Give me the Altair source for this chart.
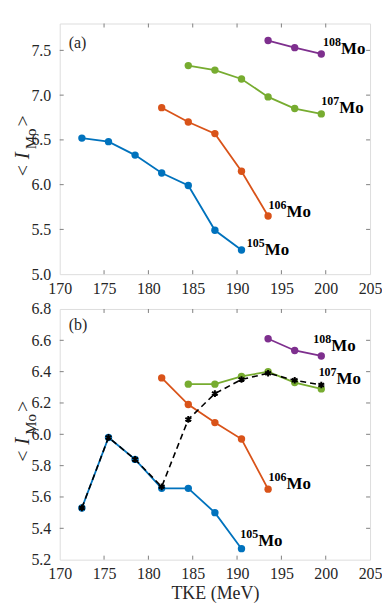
import altair as alt
import pandas as pd

# ---------------- data ----------------
isotopes = ["105", "106", "107", "108"]
x105 = [172.5, 175.5, 178.5, 181.5, 184.5, 187.5, 190.5]
x106 = [181.5, 184.5, 187.5, 190.5, 193.5]
x107 = [184.5, 187.5, 190.5, 193.5, 196.5, 199.5]
x108 = [193.5, 196.5, 199.5]

a105 = [6.52, 6.48, 6.33, 6.13, 5.99, 5.49, 5.27]
a106 = [6.86, 6.70, 6.57, 6.15, 5.65]
a107 = [7.33, 7.28, 7.18, 6.98, 6.85, 6.79]
a108 = [7.61, 7.53, 7.46]

b105 = [5.53, 5.98, 5.84, 5.655, 5.655, 5.50, 5.27]
b106 = [6.36, 6.19, 6.075, 5.97, 5.65]
b107 = [6.32, 6.32, 6.37, 6.40, 6.33, 6.29]
b108 = [6.61, 6.535, 6.50]

avg_x = [172.5, 175.5, 178.5, 181.5, 184.5, 187.5, 190.5, 193.5, 196.5, 199.5]
avg_b = [5.53, 5.98, 5.84, 5.665, 6.095, 6.26, 6.35, 6.39, 6.345, 6.315]

# label anchors (data units) for isotope names
a_lab_x = [191.1, 193.55, 199.5, 199.7]
a_lab_y = [5.21, 5.637, 6.804, 7.463]
b_lab_x = [190.36, 193.55, 199.2, 198.6]
b_lab_y = [5.286, 5.652, 6.321, 6.530]

x_ticks = [170, 175, 180, 185, 190, 195, 200, 205]
x_inner = [175, 180, 185, 190, 195, 200]
a_ticks = [5.0, 5.5, 6.0, 6.5, 7.0, 7.5]
b_ticks = [5.2, 5.4, 5.6, 5.8, 6.0, 6.2, 6.4, 6.6, 6.8]

colors = ["#0072BD", "#D95319", "#77AC30", "#7E2F8E"]

W, H = 312, 252
FONT = "Times New Roman, Liberation Serif, serif"
TXT = "#262626"
FRAME = "#808080"


def series_df(ys):
    rows = []
    for iso, xs, vs in zip(isotopes, [x105, x106, x107, x108], ys):
        for x, v in zip(xs, vs):
            rows.append({"tke": x, "val": v, "iso": iso})
    return pd.DataFrame(rows)


def panel(ys, ydom, yticks, lab_x, lab_y, tag, tag_y, xtitle, avg=None):
    xs = alt.Scale(domain=[170, 205], nice=False, zero=False)
    ysc = alt.Scale(domain=ydom, nice=False, zero=False)
    color = alt.Color("iso:N", scale=alt.Scale(domain=isotopes, range=colors), legend=None)
    xaxis = alt.Axis(values=x_ticks, ticks=False, domain=False, grid=False, labelFont=FONT,
                     labelFontSize=16, labelColor=TXT, labelPadding=6, labelFlush=False,
                     labelOverlap=False,
                     title=xtitle if xtitle else None, titleFont=FONT, titleFontSize=18,
                     titleFontWeight="normal", titleColor=TXT, titlePadding=3)
    yaxis = alt.Axis(values=yticks, format=".1f", ticks=False, domain=False, grid=False,
                     labelFont=FONT, labelFontSize=16, labelColor=TXT, labelPadding=9,
                     labelOverlap=False, labelFlush=False, title=None)
    X = lambda f: alt.X(f, scale=xs, axis=xaxis)
    Y = lambda f: alt.Y(f, scale=ysc, axis=yaxis)
    df = series_df(ys)
    base = alt.Chart(df)
    lines = base.mark_line(strokeWidth=1.8).encode(
        x=X("tke:Q"), y=Y("val:Q"), color=color, detail="iso:N")
    pts = base.mark_point(filled=True, size=55, opacity=1).encode(
        x=X("tke:Q"), y=Y("val:Q"), color=color)
    layers = [lines, pts]
    if avg is not None:
        adf = pd.DataFrame({"tke": avg_x, "val": avg})
        ab = alt.Chart(adf)
        layers.append(ab.mark_line(color="black", strokeWidth=1.6, strokeDash=[6, 4]).encode(
            x=X("tke:Q"), y=Y("val:Q")))
        star = "M0,-1L0,1M-0.87,-0.5L0.87,0.5M-0.87,0.5L0.87,-0.5"
        layers.append(ab.mark_point(shape=star, color="black", filled=False, strokeWidth=2,
                                    size=45, opacity=1).encode(x=X("tke:Q"), y=Y("val:Q")))
    ldf = pd.DataFrame({"iso": isotopes, "lx": lab_x, "ly": lab_y, "el": ["Mo"] * 4})
    lb = alt.Chart(ldf)
    layers.append(lb.mark_text(align="left", baseline="alphabetic", font=FONT, fontSize=12,
                               fontWeight="bold", color="black", dy=-8).encode(
        x=X("lx:Q"), y=Y("ly:Q"), text="iso:N"))
    layers.append(lb.mark_text(align="left", baseline="alphabetic", font=FONT, fontSize=17,
                               fontWeight="bold", color="black", dx=18).encode(
        x=X("lx:Q"), y=Y("ly:Q"), text="el:N"))
    # inward ticks
    xt = alt.Chart(pd.DataFrame({"t": x_inner}))
    yt = alt.Chart(pd.DataFrame({"t": yticks[1:-1] if yticks[-1] == ydom[1] else yticks[1:]}))
    tick_style = dict(color=FRAME, strokeWidth=1)
    layers += [
        xt.mark_rule(**tick_style).encode(x=X("t:Q"), y=alt.value(H - 4), y2=alt.value(H)),
        xt.mark_rule(**tick_style).encode(x=X("t:Q"), y=alt.value(0), y2=alt.value(4)),
        yt.mark_rule(**tick_style).encode(y=Y("t:Q"), x=alt.value(0), x2=alt.value(4)),
        yt.mark_rule(**tick_style).encode(y=Y("t:Q"), x=alt.value(W - 4), x2=alt.value(W)),
    ]
    one = alt.Chart(pd.DataFrame({"k": [0]}))
    layers.append(one.mark_text(text=tag, align="left", baseline="middle", font=FONT,
                                fontSize=16, color=TXT).encode(x=alt.value(9), y=alt.value(tag_y)))
    # y title  < I_Mo >
    yt_parts = [("<", "normal", 20, -31, 148), ("I", "italic", 21, -31, 133),
                ("Mo", "normal", 15, -24, 116), (">", "normal", 20, -31, 98)]
    for txt, style, fs, px, py in yt_parts:
        layers.append(one.mark_text(text=txt, angle=270, align="center", baseline="alphabetic",
                                    font=FONT, fontSize=fs, fontStyle=style, color=TXT).encode(
            x=alt.value(px), y=alt.value(py)))
    return alt.layer(*layers).properties(width=W, height=H)


pa = panel([a105, a106, a107, a108], [5.0, 7.8], a_ticks, a_lab_x, a_lab_y, "(a)", 20, None)
pb = panel([b105, b106, b107, b108], [5.2, 6.8], b_ticks, b_lab_x, b_lab_y, "(b)", 16,
           "TKE (MeV)", avg=avg_b)

chart = alt.vconcat(pa, pb, spacing=35, bounds="flush").properties(
    padding={"left": 3, "top": 13, "right": -1, "bottom": 0}
).configure_view(stroke=FRAME, strokeWidth=1).configure_axis(labelOverlap=False).configure(
    background="white")

chart.save("out.html", embed_options={"renderer": "svg", "actions": False})
